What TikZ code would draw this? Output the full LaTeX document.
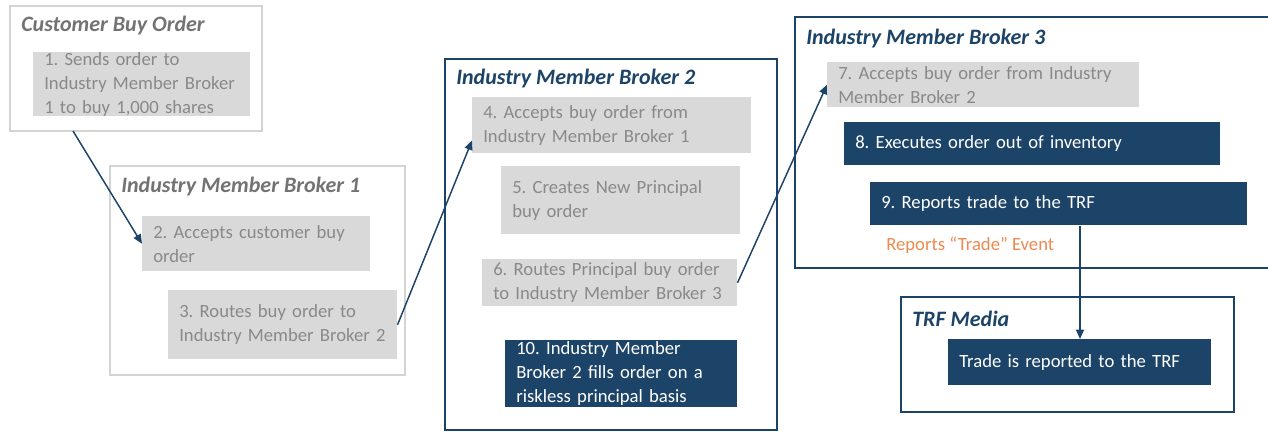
\documentclass[tikz,border=0pt]{standalone}
\usepackage{fontspec}
\setmainfont{Carlito}
\frenchspacing
\usetikzlibrary{arrows.meta,calc}
\definecolor{navy}{HTML}{1C4368}
\definecolor{boxgray}{HTML}{D9D9D9}
\definecolor{txtgray}{HTML}{898989}
\definecolor{ttlgray}{HTML}{737373}
\definecolor{lightframe}{HTML}{D4D4D4}
\definecolor{orng}{HTML}{EC8A4F}
\tikzset{
  base/.style={anchor=north west, inner xsep=8.25pt, inner ysep=0pt, align=left,
    font=\fontsize{14}{18}\selectfont\frenchspacing},
  gbox/.style={base, fill=boxgray, text=txtgray},
  nbox/.style={base, fill=navy, text=white},
  gframe/.style={draw=lightframe, line width=1.5pt},
  nframe/.style={draw=navy, line width=1.2pt},
  gtitle/.style={anchor=west, inner sep=0pt, text=ttlgray, font=\fontsize{16.5}{20}\selectfont\bfseries\itshape},
  ntitle/.style={anchor=west, inner sep=0pt, text=navy, font=\fontsize{16.5}{20}\selectfont\bfseries\itshape},
  conn/.style={draw=navy, line width=1.1pt, -{Triangle[length=7pt,width=6pt]}}
}
\begin{document}
\begin{tikzpicture}[x=0.75pt,y=-0.75pt]
\useasboundingbox (0,0) rectangle (1268,432);
\clip (0,0) rectangle (1268,432);
\fill[white] (0,0) rectangle (1268,432);
% frames
\draw[gframe] (10,6) rectangle (262,131);
\draw[gframe] (110,166) rectangle (405,375);
\draw[nframe] (445,59) rectangle (777,430);
\draw[nframe] (795,17) rectangle (1280,268);
\draw[nframe] (901,297) rectangle (1234,412);
% titles
\node[gtitle] (t0) at (21,26) {Customer Buy Order};
\node[gtitle] (t1) at (121,187) {Industry Member Broker 1};
\node[ntitle] (t2) at (456,79) {Industry Member Broker 2};
\node[ntitle] (t3) at (806,39) {Industry Member Broker 3};
\node[ntitle] (t4) at (912,319) {TRF Media};
% boxes
\node[gbox, minimum width=162.75pt, text width=146.25pt, minimum height=48pt] (b1) at (33,52)
  {1. Sends order to\\Industry Member Broker\\1 to buy 1,000 shares};
\node[gbox, minimum width=171pt, text width=154.5pt, minimum height=41.25pt] (b2) at (142,216)
  {2. Accepts customer buy\\order};
\node[gbox, minimum width=171.75pt, text width=155.25pt, minimum height=51.75pt] (b3) at (168,290)
  {3. Routes buy order to\\Industry Member Broker 2};
\node[gbox, minimum width=209.25pt, text width=192.75pt, minimum height=42pt] (b4) at (472,97)
  {4. Accepts buy order from\\Industry Member Broker 1};
\node[gbox, minimum width=179.25pt, text width=162.75pt, minimum height=51pt] (b5) at (501,166)
  {5. Creates New Principal\\buy order};
\node[gbox, minimum width=191.25pt, text width=174.75pt, minimum height=35.25pt] (b6) at (482,259)
  {6. Routes Principal buy order\\to Industry Member Broker 3};
\node[nbox, minimum width=174pt, text width=157.5pt, minimum height=50pt] (b10) at (505,340)
  {10. Industry Member\\Broker 2 fills order on a\\riskless principal basis};
\node[gbox, minimum width=234pt, text width=217.5pt, minimum height=33.75pt] (b7) at (827,62)
  {7. Accepts buy order from Industry\\Member Broker 2};
\node[nbox, minimum width=282pt, text width=265.5pt, minimum height=32.25pt] (b8) at (844,122)
  {8. Executes order out of inventory};
\node[nbox, minimum width=282.75pt, text width=266.25pt, minimum height=32.25pt] (b9) at (870,182)
  {9. Reports trade to the TRF};
\node[anchor=west, inner sep=0pt, text=orng, font=\fontsize{14}{18}\selectfont] (ev) at (886,245)
  {Reports “Trade” Event};
\node[nbox, minimum width=197.25pt, text width=180.75pt, minimum height=34.5pt] (tb) at (948,339)
  {Trade is reported to the TRF};
% connectors
\coordinate (s1) at (73,131);
\coordinate (e2) at ($(b4.south west)!0.23!(b4.north west)$);
\coordinate (tx) at (1080,0);
\draw[conn] (s1) -- (b2.west);
\draw[conn] (b3.east) -- (e2);
\draw[conn] (b6.east) -- (b7.west);
\draw[conn] (b9.south -| tx) -- (tb.north -| tx);
\end{tikzpicture}
\end{document}
